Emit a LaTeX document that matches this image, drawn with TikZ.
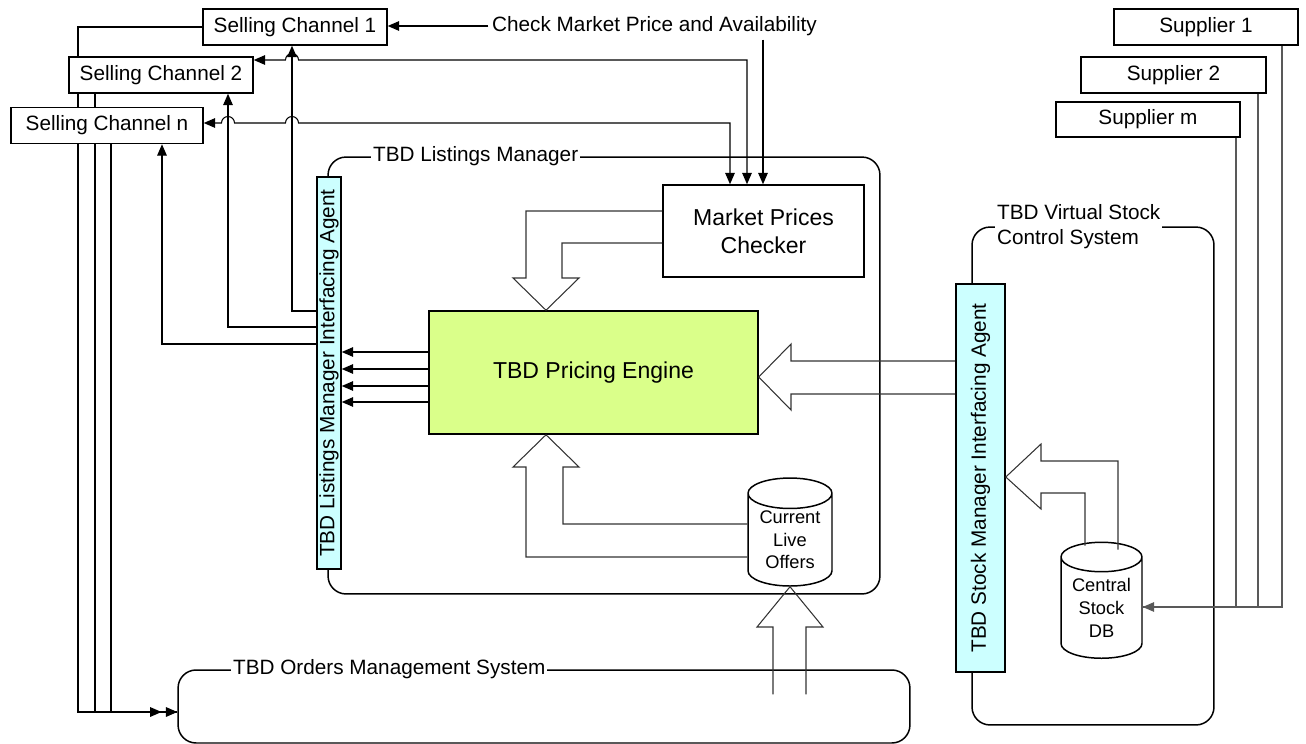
\documentclass[tikz,border=0pt]{standalone}
\usepackage{fontspec}
\setmainfont{Liberation Sans}
\usetikzlibrary{shapes.geometric,arrows.meta,calc,backgrounds}

\definecolor{agentcyan}{RGB}{204,255,255}
\definecolor{enginegreen}{RGB}{218,255,138}

\newcommand{\mainsize}{\fontsize{11.8}{14.2}\selectfont}
\newcommand{\bigsize}{\fontsize{13.1}{15.9}\selectfont}
\newcommand{\smallsize}{\fontsize{10.4}{12.9}\selectfont}

\begin{document}
\begin{tikzpicture}[x=0.02cm,y=-0.02cm,font=\mainsize,
  >={Triangle[length=6.5pt,width=5.5pt]},
  box/.style={draw,line width=0.9pt,fill=white,minimum height=0.72cm,inner sep=0pt},
  agentbar/.style={draw,line width=0.9pt,fill=agentcyan,inner sep=0pt},
  container/.style={draw,line width=0.85pt,rounded corners=0.36cm,inner sep=0pt},
  title/.style={fill=white,inner sep=1pt,anchor=west},
  db/.style={draw,line width=0.85pt,fill=white,cylinder,shape border rotate=90,aspect=0.5,inner sep=0pt,font=\smallsize,align=center},
  conn/.style={line width=0.6pt},
  feed/.style={line width=0.6pt,draw=black!65},
  blockarrow/.style={line width=0.6pt,draw=black!80,line join=miter}]
\useasboundingbox (0,0) rectangle (1306,744);

% systems
\node[container,minimum width=11.04cm,minimum height=8.74cm] (listings) at (604,375.5) {};
\node[container,minimum width=4.84cm,minimum height=9.96cm] (vstock) at (1093,476) {};
\node[container,minimum width=14.64cm,minimum height=1.46cm] (orders) at (544,706.5) {};
\node[title] (listingstitle) at (listings.north west -| 371,0) {TBD Listings Manager};
\node[title,align=left] (vstocktitle) at (vstock.north west -| 995,0) {TBD Virtual Stock\\Control System};
\node[title] (orderstitle) at (orders.north west -| 231,0) {TBD Orders Management System};

% agents, engine and stores
\node[agentbar,minimum width=0.48cm,minimum height=7.84cm] (lagent) at (329,373) {\rotatebox{90}{TBD Listings Manager Interfacing Agent}};
\node[agentbar,minimum width=0.98cm,minimum height=7.76cm] (sagent) at (980.5,478) {\rotatebox{90}{TBD Stock Manager Interfacing Agent}};
\node[box,minimum width=4.02cm,minimum height=1.84cm,font=\bigsize,align=center] (mpc) at (763.5,231) {Market Prices\\Checker};
\node[box,fill=enginegreen,minimum width=6.58cm,minimum height=2.46cm,font=\bigsize] (engine) at (593.5,372.5) {TBD Pricing Engine};
\node[db,minimum width=1.68cm,minimum height=2.16cm] (offers) at (790,540) {Current\\Live\\Offers};
\node[db,minimum width=1.62cm,minimum height=2.32cm] (stockdb) at (1101.5,608) {Central\\Stock\\DB};

% channels and suppliers
\node[box,minimum width=3.68cm] (ch1) at (295,27) {Selling Channel 1};
\node[box,minimum width=3.68cm] (ch2) at (161,75) {Selling Channel 2};
\node[box,minimum width=3.84cm] (chn) at (107,125.5) {Selling Channel n};
\node[box,minimum width=3.68cm] (sup1) at (1206,27) {Supplier 1};
\node[box,minimum width=3.7cm] (sup2) at (1173.5,75) {Supplier 2};
\node[box,minimum width=3.68cm,minimum height=0.7cm] (supm) at (1148,119.5) {Supplier m};
\node[inner sep=2pt] (check) at (654.5,26) {Check Market Price and Availability};

% market price checks
\draw[conn,->] (check.west) -- (check.west -| ch1.east);
\draw[conn,->] (check.south -| 763,0) -- (mpc.north -| 763,0);
\draw[conn,<->] (mpc.north -| 747,0) -- (747,60) -- (298.5,60) arc[start angle=0,end angle=-180,radius=6.5] -- (ch2.east |- 0,60);
\draw[conn,<->] (mpc.north -| 730,0) -- (730,123) -- (298.5,123) arc[start angle=0,end angle=-180,radius=6.5]
  -- (234.5,123) arc[start angle=0,end angle=-180,radius=6.5] -- (chn.east |- 0,123);

% listings out to the channels
\draw[conn,->] (lagent.west |- 0,311) -| (ch1.south -| 292,0);
\draw[conn,->] (lagent.west |- 0,327) -| (ch2.south -| 228,0);
\draw[conn,->] (lagent.west |- 0,344) -| (chn.south -| 162,0);
\foreach \y in {352,369,386,402}
{ \draw[conn,->] (engine.west |- 0,\y) -- (lagent.east |- 0,\y);
}

% orders from the channels
\begin{scope}[on background layer]
\draw[conn] (ch2.south -| 95,0) |- (orders.west |- 0,712);
\draw[conn] (chn.south -| 111,0) |- (orders.west |- 0,712);
\draw[conn,-{Triangle[length=6.5pt,width=5.5pt,sep=2.5pt] Triangle[length=6.5pt,width=5.5pt]}] (ch1.west) -| (78,712) -- (orders.west |- 0,712);
\end{scope}

% suppliers into the stock db
\draw[feed] (supm.south -| 1236,0) |- (stockdb.east |- 0,607);
\draw[feed] (sup2.south -| 1258,0) |- (stockdb.east |- 0,607);
\draw[feed,->] (sup1.south -| 1282,0) |- (stockdb.east |- 0,607);

% block arrows
\draw[blockarrow] (mpc.west |- 0,211) -- (526,211) -- (526,278) -- (513,278) -- (engine.north -| 546,0)
  -- (579,278) -- (562,278) -- (562,243) -- (mpc.west |- 0,243);
\draw[blockarrow] (offers.west |- 0,557) -- (526,557) -- (526,467) -- (513,467) -- (engine.south -| 546,0)
  -- (579,467) -- (563,467) -- (563,524) -- (offers.west |- 0,524);
\draw[blockarrow] (sagent.west |- 0,361) -- (791,361) -- (791,344) -- (engine.east |- 0,377)
  -- (791,410) -- (791,394) -- (sagent.west |- 0,394);
\draw[blockarrow] ($(stockdb.north)+(16.5,8)$) -- (1118,461) -- (1041,461) -- (1041,444) -- (sagent.east |- 0,477)
  -- (1041,509) -- (1041,493) -- (1085,493) -- ($(stockdb.north)+(-16.5,4)$);
\draw[blockarrow] ($(orders.north -| offers.south)+(-17,25)$) -- (773,627) -- (757,627) -- (offers.south)
  -- (823,627) -- (806,627) -- ($(orders.north -| offers.south)+(16,25)$);
\end{tikzpicture}
\end{document}
